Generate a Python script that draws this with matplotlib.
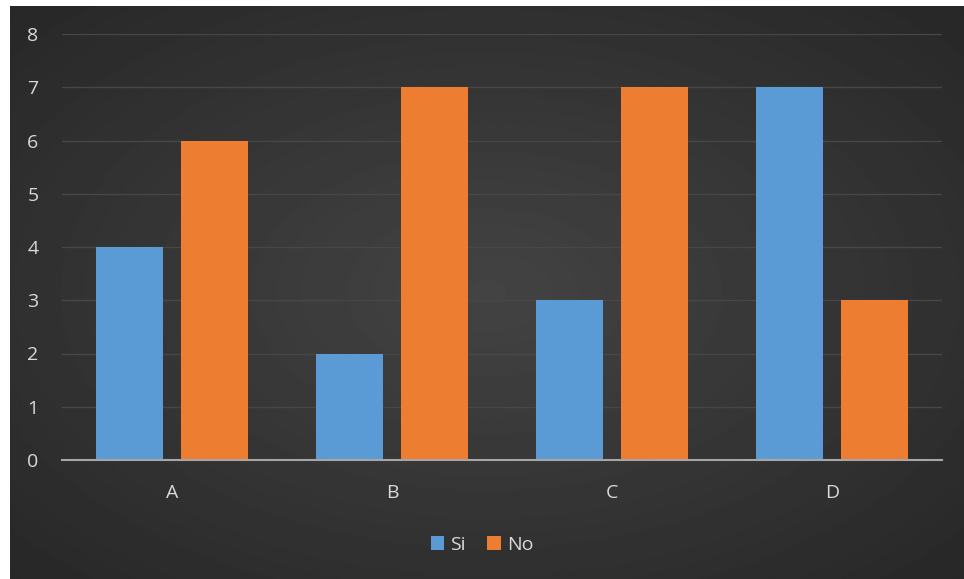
import matplotlib
matplotlib.use("Agg")
import matplotlib.pyplot as plt
import numpy as np

# datos del grafico
categorias = ["A", "B", "C", "D"]
valores_si = [4, 2, 3, 7]
valores_no = [6, 7, 7, 3]
etiquetas = ["Si", "No"]

color_si = "#5B9BD5"
color_no = "#ED7D31"
color_texto = "#D9D9D9"

plt.rcParams["font.family"] = ["Open Sans", "DejaVu Sans"]

fig = plt.figure(figsize=(9.64, 5.79), dpi=100)
fig.patch.set_facecolor("white")

# fondo con degradado radial
ax_fondo = fig.add_axes([10 / 964, 0, 954 / 964, 573 / 579])
yy, xx = np.mgrid[-1:1:300j, -1:1:500j]
r = np.sqrt(xx ** 2 + yy ** 2) / np.sqrt(2)
fondo = 0.265 - 0.11 * r
ax_fondo.imshow(fondo, cmap="gray", vmin=0, vmax=1, aspect="auto", extent=[0, 1, 0, 1])
ax_fondo.axis("off")

ax = fig.add_axes([62 / 964, 119 / 579, 880 / 964, 426 / 579])
ax.patch.set_alpha(0)

x = np.arange(len(categorias))
ancho = 0.305
desplazamiento = 0.193
ax.bar(x - desplazamiento, valores_si, ancho, color=color_si, label=etiquetas[0], zorder=3)
ax.bar(x + desplazamiento, valores_no, ancho, color=color_no, label=etiquetas[1], zorder=3)

ax.set_xlim(-0.5, len(categorias) - 0.5)
ax.set_ylim(0, 8)
ax.set_yticks(range(0, 9))
ax.set_xticks(x)
ax.set_xticklabels(categorias)
ax.tick_params(axis="both", colors=color_texto, labelsize=14, length=0)
ax.tick_params(axis="y", pad=17)
ax.tick_params(axis="x", pad=17)

ax.grid(axis="y", color="#474747", linewidth=1, zorder=0)
for lado in ["top", "right", "left"]:
    ax.spines[lado].set_visible(False)
ax.spines["bottom"].set_color("#A6A6A6")
ax.spines["bottom"].set_linewidth(1.5)
ax.spines["bottom"].set_zorder(4)

leyenda = fig.legend(loc="center", bbox_to_anchor=(482 / 964, 1 - 545 / 579), ncol=2,
                     frameon=False, fontsize=14, handlelength=0.7, handleheight=0.7,
                     handletextpad=0.3, columnspacing=1.1)
for texto in leyenda.get_texts():
    texto.set_color(color_texto)

plt.savefig("out.png", dpi=100)
